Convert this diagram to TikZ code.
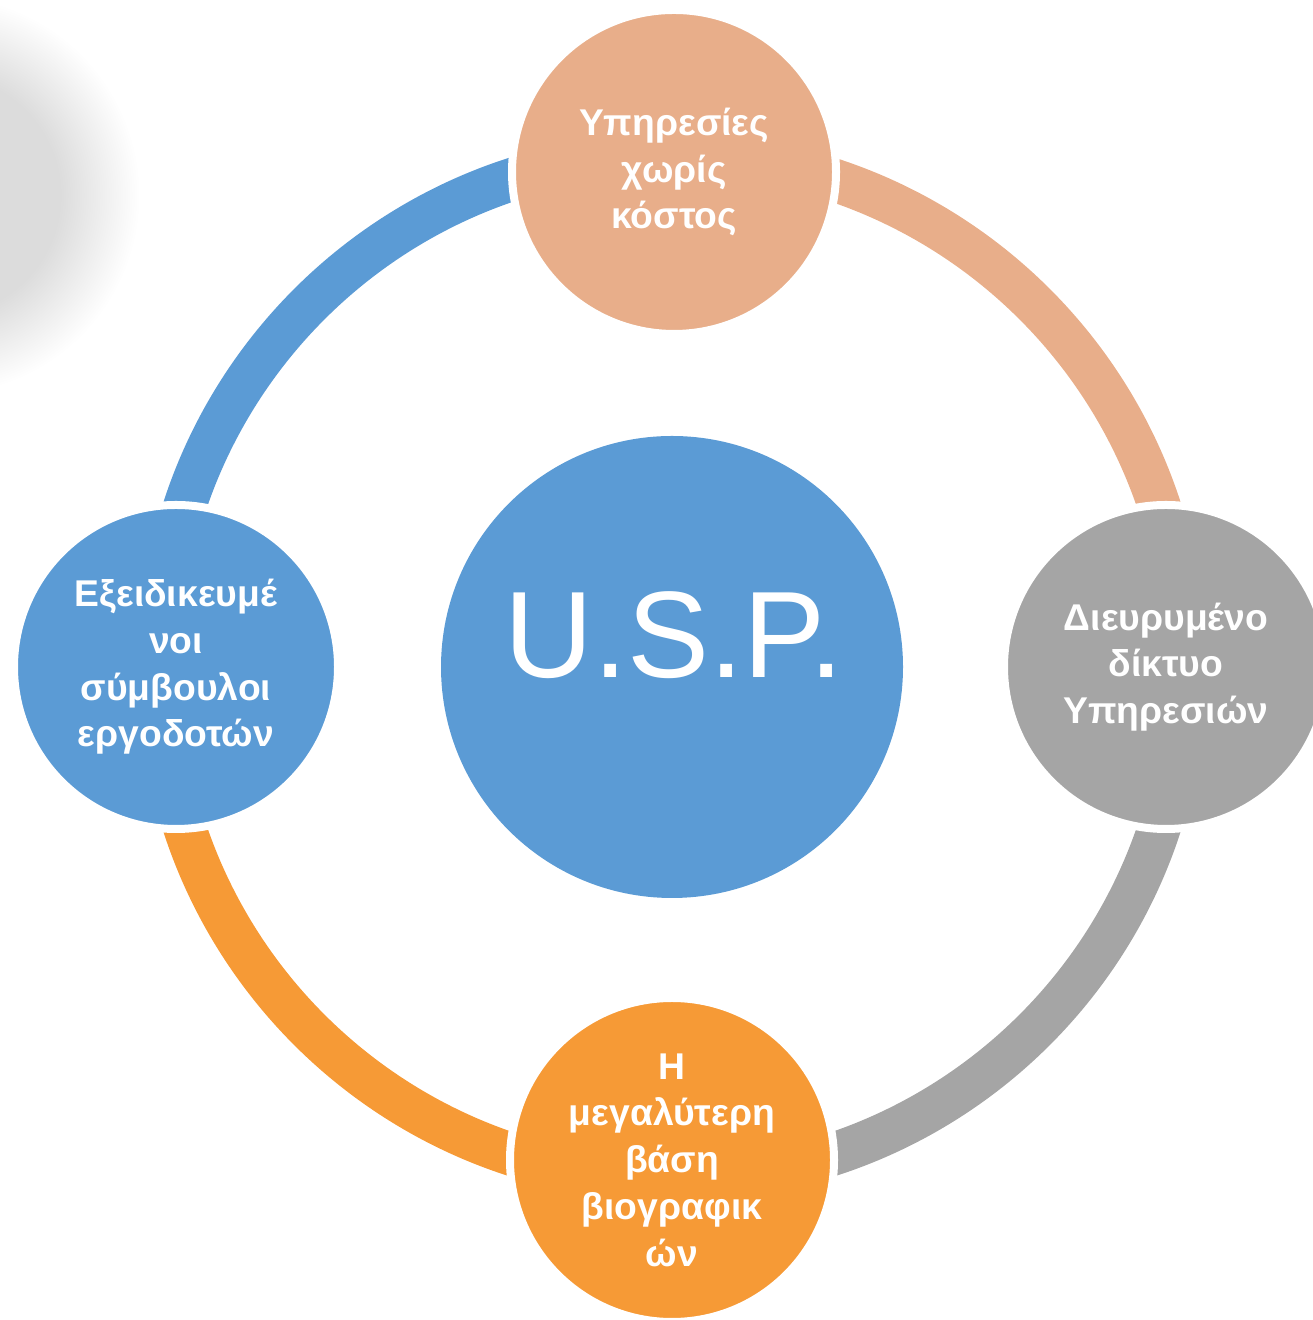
\documentclass[tikz,border=0pt]{standalone}
\usepackage{fontspec}
\setmainfont{Liberation Sans}
\usepackage{tikz}

\definecolor{uspblue}{HTML}{5B9BD5}
\definecolor{usppeach}{HTML}{E8AE8A}
\definecolor{uspgray}{HTML}{A5A5A5}
\definecolor{usporange}{HTML}{F69A36}
\definecolor{shadowgray}{HTML}{DCDCDC}
\pgfdeclareradialshading{uspshadow}{\pgfpoint{0bp}{0bp}}{color(0bp)=(shadowgray); color(15bp)=(shadowgray); color(25bp)=(white); color(50bp)=(white)}

\begin{document}
\begin{tikzpicture}[
	point/.style = {circle, draw = white, line width = 0.8 mm, minimum size = 3.24 cm,
		inner sep = 0pt, text = white, align = center,
		font = \bfseries\fontsize{10.6}{13.3}\selectfont},
	ring/.style = {line width = 0.43 cm}]
\useasboundingbox (0,0) rectangle (13.12,13.2);
\shade [shading = uspshadow] (-0.6,11.25) circle (2);
\node [circle, fill = uspblue, minimum size = 4.62 cm, inner sep = 0pt] (usp) at (6.72,6.53) {};
\node [anchor = base, text = white, font = \fontsize{35}{35}\selectfont] (usplabel) at (6.74,6.42) {U.S.P.};
\foreach \a/\c in {90/uspblue, 0/usppeach, -90/uspgray, 180/usporange}
\draw [ring, \c] (usp.center) ++(\a:5.13) arc [start angle = \a, end angle = \a+90, radius = 5.13];
\node [point, fill = usppeach] (free) at (6.74,11.48) {Υπηρεσίες\\χωρίς\\κόστος};
\node [point, fill = uspgray] (network) at (11.66,6.53) {Διευρυμένο\\δίκτυο\\Υπηρεσιών};
\node [point, fill = usporange] (cvbase) at (6.72,1.6) {Η\\μεγαλύτερη\\βάση\\βιογραφικ\\ών};
\node [point, fill = uspblue] (advisors) at (1.76,6.53) {Εξειδικευμέ\\νοι\\σύμβουλοι\\εργοδοτών};
\end{tikzpicture}
\end{document}
